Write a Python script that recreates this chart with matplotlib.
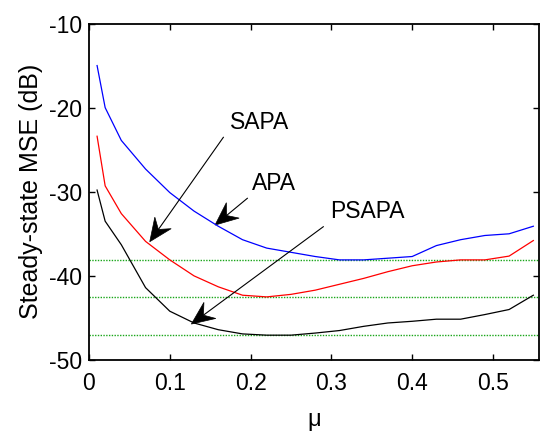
import matplotlib
matplotlib.use("Agg")
import numpy as np
import matplotlib.pyplot as plt
from matplotlib.patches import Polygon
from matplotlib.transforms import IdentityTransform

plt.rcParams['font.family'] = ['Liberation Sans', 'DejaVu Sans']
plt.rcParams['axes.unicode_minus'] = False

mu = [0.01, 0.02, 0.04, 0.07, 0.10, 0.13, 0.16, 0.19, 0.22, 0.25,
      0.28, 0.31, 0.34, 0.37, 0.40, 0.43, 0.46, 0.49, 0.52, 0.55]
apa = [-15.0, -20.0, -23.9, -27.3, -30.1, -32.3, -34.1, -35.7, -36.7, -37.2,
       -37.7, -38.1, -38.1, -37.9, -37.7, -36.4, -35.7, -35.2, -35.0, -34.1]
sapa = [-23.4, -29.3, -32.6, -35.9, -38.1, -40.0, -41.3, -42.3, -42.5, -42.2,
        -41.7, -41.0, -40.3, -39.5, -38.8, -38.35, -38.1, -38.1, -37.65, -35.8]
psapa = [-29.8, -33.5, -36.3, -41.4, -44.2, -45.6, -46.4, -46.9, -47.05, -47.05,
         -46.8, -46.5, -46.0, -45.6, -45.4, -45.15, -45.15, -44.6, -44.0, -42.3]
ref_levels = [-38.1, -42.5, -47.05]

x_ticks = [0, 0.1, 0.2, 0.3, 0.4, 0.5]
x_ticklabels = ['0', '0.1', '0.2', '0.3', '0.4', '0.5']
y_ticks = [-50, -40, -30, -20, -10]
y_ticklabels = ['-50', '-40', '-30', '-20', '-10']

labels = ['SAPA', 'APA', 'PSAPA']
label_pos = [(0.2107, -21.77), (0.2287, -28.97), (0.345, -32.3)]
arrow_tail = [(0.1663, -23.53), (0.196, -30.78), (0.290, -34.16)]
arrow_tip = [(0.0752, -35.94), (0.156, -33.96), (0.1267, -45.73)]

fig = plt.figure(figsize=(5.44, 4.32), dpi=100)
ax = fig.add_axes([0.1636, 0.1667, 0.8272, 0.7789])

for lvl in ref_levels:
    ax.axhline(lvl, color=(0.1, 0.65, 0.1), linestyle=(0, (1, 1)), lw=1.0, zorder=1)

ax.plot(mu, apa, color='blue', lw=0.9, zorder=2)
ax.plot(mu, sapa, color='red', lw=0.9, zorder=2)
ax.plot(mu, psapa, color='black', lw=0.9, zorder=2)

for lab, pos in zip(labels, label_pos):
    ax.text(pos[0], pos[1], lab, ha='center', va='center', fontsize=16.5)

ax.set_xlim(0, 0.557)
ax.set_ylim(-50, -10)
ax.set_xticks(x_ticks)
ax.set_xticklabels(x_ticklabels)
ax.set_yticks(y_ticks)
ax.set_yticklabels(y_ticklabels)
ax.tick_params(direction='in', length=4, width=1, top=True, right=True,
               labelsize=16.5)
ax.tick_params(axis='x', pad=9)
ax.tick_params(axis='y', pad=5)
for s in ax.spines.values():
    s.set_linewidth(1.3)

ax.set_xlabel('\u03bc', fontsize=17, labelpad=10)
ax.set_ylabel('Steady-state MSE (dB)', fontsize=18, labelpad=4)

# arrows with concave-back ("vback2"-like) heads, placed via the data transform
head_len, head_half, notch = 23.0, 10.0, 8.0
for tail, tip in zip(arrow_tail, arrow_tip):
    p_tail = ax.transData.transform(tail)
    p_tip = ax.transData.transform(tip)
    d = p_tip - p_tail
    u = d / np.hypot(*d)
    n = np.array([-u[1], u[0]])
    back = p_tip - u * head_len
    left = back + n * head_half
    right = back - n * head_half
    notch_pt = p_tip - u * (head_len - notch)
    ax.add_line(plt.Line2D([p_tail[0], notch_pt[0]], [p_tail[1], notch_pt[1]],
                           color='black', lw=0.8, transform=IdentityTransform()))
    ax.add_patch(Polygon([p_tip, left, notch_pt, right], closed=True,
                         facecolor='black', edgecolor='black', lw=0.5,
                         transform=IdentityTransform()))

fig.savefig('out.png', dpi=100)
